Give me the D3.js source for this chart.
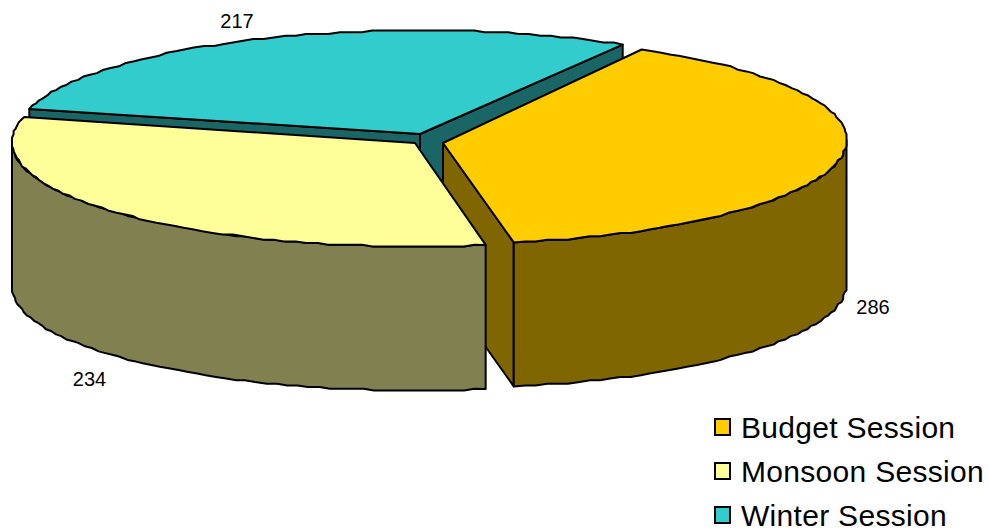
<!DOCTYPE html>
<html>
<head>
<meta charset="utf-8">
<script src="https://cdn.jsdelivr.net/npm/d3@7/dist/d3.min.js"></script>
<style>html,body{margin:0;padding:0;background:#fff}svg{display:block}</style>
</head>
<body>
<svg id="chart" width="989" height="531"></svg>
<script>
const categories = ["Budget Session", "Monsoon Session", "Winter Session"];
const values = [286, 234, 217];
const topColors = ["#FFCC00", "#FFFF99", "#33CCCC"];
const wallColors = ["#806600", "#808050", "#1A6666"];

// layout
const RX = [403.5,403,403], RY = 104, DEPTH = 144;
const apex = [[443,143],[415,143],[420,134]];
const centerY = [140,142.5,134.5];
const labelPos = [[873,307],[89.5,379],[237,21]];
const deg = Math.PI/180;
const svg = d3.select("#chart");

const pie = d3.pie().sort(null).startAngle(30.2*deg).endAngle(390.2*deg);
const arcs = pie(values);
const budgetStartNudge = -0.7*deg;

const yR = d3.scaleLinear().domain([-1,1]).range([-RY,RY]);
const line = d3.line();
const snap = v => Math.round(v/1.7)*1.7;

const edge=(i,a)=>[apex[i][0]+RX[i]*Math.sin(a),centerY[i]-yR(Math.cos(a))];
const down=(p)=>[p[0],p[1]+DEPTH];
function rim(i,a0,a1,dz){
  const n = Math.max(2,Math.round(Math.abs(a1-a0)/(1.6*deg)));
  return d3.range(n+1).map(k=>{
    let [x,y] = edge(i,a0+(a1-a0)*k/n);
    if(k>0&&k<n){x=Math.min(snap(x),apex[i][0]+RX[i]);x=Math.max(x,apex[i][0]-RX[i]);y=snap(y);}
    return [x,y+dz];
  });
}
function poly(pts,fill){
  return svg.append("path").attr("d",line(pts)+"Z").attr("fill",fill)
    .attr("stroke","#000").attr("stroke-width",2).attr("stroke-linejoin","round");
}

// Winter: both cut faces, then top
{
  const i=2,a=arcs[i],A=apex[i],s=edge(i,a.startAngle),e=edge(i,a.endAngle);
  poly([A,s,down(s),down(A)],wallColors[i]);
  poly([A,e,down(e),down(A)],wallColors[i]);
  poly([A,...rim(i,a.startAngle,a.endAngle,0)],topColors[i]);
}
// Budget: cut face, outer wall, top
{
  const i=0,a=arcs[i],A=apex[i],e=edge(i,a.endAngle);
  poly([A,e,down(e),down(A)],wallColors[i]);
  const top=rim(i,90*deg,a.endAngle,0), bot=rim(i,90*deg,a.endAngle,DEPTH).reverse();
  poly([...top,...bot],wallColors[i]);
  poly([A,...rim(i,a.startAngle+budgetStartNudge,a.endAngle,0)],topColors[i]);
}
// Monsoon: outer wall, top
{
  const i=1,a=arcs[i],A=apex[i];
  const top=rim(i,a.startAngle,270*deg,0), bot=rim(i,a.startAngle,270*deg,DEPTH).reverse();
  poly([...top,...bot],wallColors[i]);
  poly([A,...rim(i,a.startAngle,a.endAngle,0)],topColors[i]);
}
// Data labels
svg.selectAll("text.val").data(values).join("text").attr("class","val")
  .attr("x",(d,i)=>labelPos[i][0]).attr("y",(d,i)=>labelPos[i][1]+7)
  .attr("text-anchor","middle")
  .attr("font-family","'Liberation Sans',Arial,sans-serif")
  .attr("font-size",20).attr("fill","#000")
  .text(d=>d);
// Legend
const legY = d3.scalePoint().domain(categories).range([427,515]);
const lg = svg.selectAll("g.leg").data(categories).join("g").attr("class","leg")
  .attr("transform",d=>`translate(0,${legY(d)})`);
lg.append("rect").attr("x",715).attr("y",-8).attr("width",15).attr("height",16)
  .attr("fill",(d,i)=>topColors[i]).attr("stroke","#000").attr("stroke-width",2);
lg.append("text").attr("x",741).attr("y",11.3)
  .attr("font-family","'Liberation Sans',Arial,sans-serif")
  .attr("font-size",30).attr("letter-spacing",0.3).attr("fill","#000").text(d=>d);
</script>
</body>
</html>
